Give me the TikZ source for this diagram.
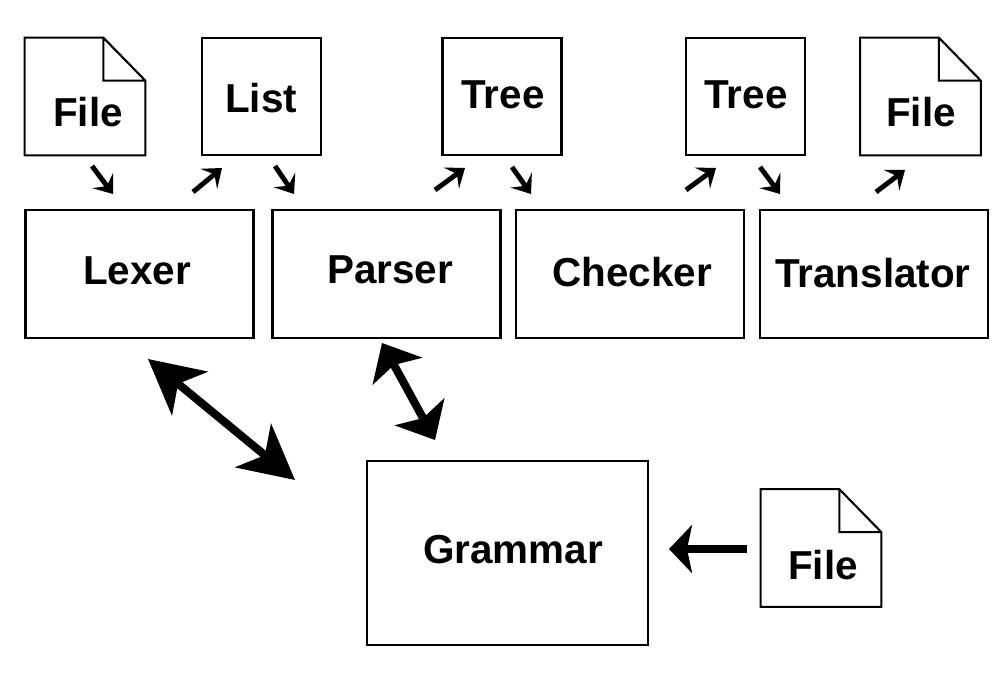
\documentclass[tikz,border=0pt]{standalone}
\usepackage{fontspec}
\setmainfont{Liberation Sans}
\usetikzlibrary{arrows.meta}

\tikzset{
  stage/.style={draw, line width=1.2pt, minimum width=4.56cm, minimum height=2.56cm, inner sep=0pt},
  sheet/.style={draw, line width=1.2pt, minimum width=2.38cm, minimum height=2.34cm, inner sep=0pt},
  doc/.style={minimum width=2.4cm, minimum height=2.34cm, inner sep=0pt},
  txt/.style={font=\fontsize{23}{28}\selectfont\bfseries, inner sep=0pt},
  small arrow/.style={-{Stealth[length=0.34cm, width=0.52cm, inset=0.14cm]}, line width=2.8pt},
  longhead/.tip={Stealth[length=1.08cm, width=1.12cm, inset=0.3cm]},
  shorthead/.tip={Stealth[length=0.64cm, width=1.12cm, inset=0.14cm]},
}

\begin{document}
\begin{tikzpicture}[x=0.02cm, y=-0.02cm]
  \useasboundingbox (0,0) rectangle (1000,679);

  % documents with folded corner
  \node[doc] (file1) at (85,96.5) {};
  \node[doc] (file2) at (920.5,96.5) {};
  \node[doc] (file3) at (821,548) {};
  \foreach \d in {file1,file2,file3}
    \draw[line width=1.2pt] (\d.north west) -- ([xshift=-0.84cm]\d.north east) -- ([yshift=-0.86cm]\d.north east)
      -- (\d.south east) -- (\d.south west) -- cycle
      ([xshift=-0.84cm]\d.north east) |- ([yshift=-0.86cm]\d.north east);
  \node[txt] (file1txt) at (88,112) {File};
  \node[txt] (file2txt) at (921,112) {File};
  \node[txt] (file3txt) at (823,565) {File};

  % intermediate results
  \node[sheet] (list) at (261.5,96.5) {};
  \node[sheet] (tree1) at (502,96.5) {};
  \node[sheet] (tree2) at (745.5,96.5) {};
  \node[txt] (listtxt) at (261,98) {List};
  \node[txt] (tree1txt) at (503,95) {Tree};
  \node[txt] (tree2txt) at (746,95) {Tree};

  % stages
  \node[stage] (lexer) at (139.5,274) {};
  \node[stage] (parser) at (386.5,274) {};
  \node[stage] (checker) at (630,274) {};
  \node[stage] (translator) at (874,274) {};
  \node[txt] (lexertxt) at (137,271) {Lexer};
  \node[txt] (parsertxt) at (390,270) {Parser};
  \node[txt] (checkertxt) at (632,272) {Checker};
  \node[txt] (translatortxt) at (873,273) {Translator};

  \node[draw, line width=1.2pt, minimum width=5.62cm, minimum height=3.68cm] (grammar) at (507.5,553) {};
  \node[txt] (grammartxt) at (513,550) {Grammar};

  % small arrows between stages
  \coordinate (a1) at (92,166);  \coordinate (b1) at (113,194);
  \coordinate (a2) at (193,192); \coordinate (b2) at (222,168);
  \coordinate (a3) at (275,166); \coordinate (b3) at (294,194);
  \coordinate (a4) at (435,190); \coordinate (b4) at (465,168);
  \coordinate (a5) at (512,167); \coordinate (b5) at (531,194);
  \coordinate (a6) at (686,190); \coordinate (b6) at (716,168);
  \coordinate (a7) at (760,167); \coordinate (b7) at (780,194);
  \coordinate (a8) at (876,192); \coordinate (b8) at (905,170);
  \foreach \i in {1,...,8}
    \draw[small arrow] (a\i) -- (b\i);

  % grammar links
  \coordinate (lexend) at (148,359);  \coordinate (gramlex) at (295,480);
  \coordinate (parend) at (382,343);  \coordinate (grampar) at (435,440);
  \coordinate (fileend) at (747,549); \coordinate (gramfile) at (669,549);
  \draw[longhead-longhead, line width=4.6pt] (lexend) -- (gramlex);
  \draw[shorthead-shorthead, line width=4.6pt] (parend) -- (grampar);
  \draw[-{Stealth[length=0.46cm, width=0.96cm, inset=0.1cm]}, line width=4.6pt] (fileend) -- (gramfile);
\end{tikzpicture}
\end{document}
